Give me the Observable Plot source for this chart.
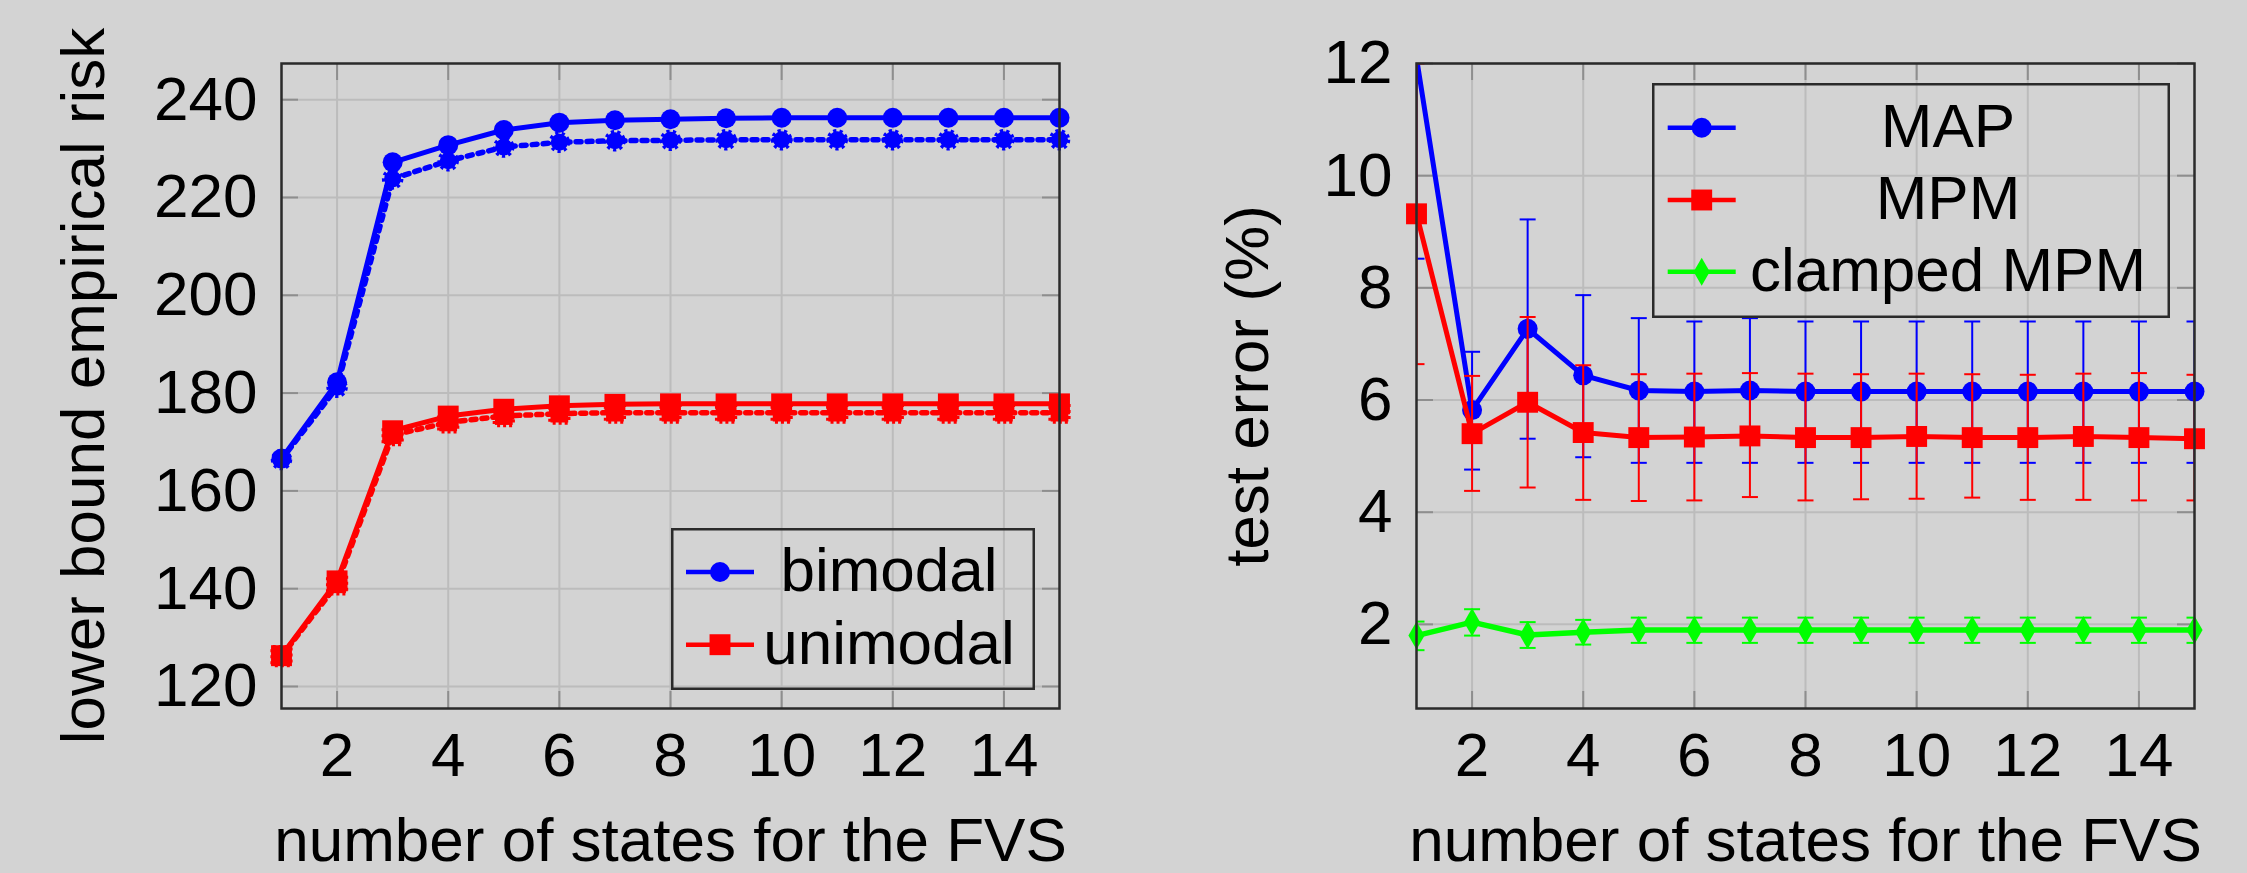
<!DOCTYPE html>
<html><head><meta charset="utf-8">
<script src="https://cdn.jsdelivr.net/npm/d3@7"></script>
<script src="https://cdn.jsdelivr.net/npm/@observablehq/plot@0.6"></script>
<style>
html,body{margin:0;padding:0;background:#d3d3d3;}
#wrap{position:relative;width:2247px;height:873px;overflow:hidden;background:#d3d3d3;}
#wrap > *{position:absolute;}
</style></head><body><div id="wrap"></div>
<script>
// ---------- data ----------
const states = [1,2,3,4,5,6,7,8,9,10,11,12,13,14,15];

// left panel: lower bound empirical risk
const bimodal        = [166.6,182.2,227.2,230.7,233.8,235.3,235.8,236.0,236.2,236.3,236.3,236.3,236.3,236.3,236.3];
const bimodalDotted  = [166.4,181.2,223.8,227.5,230.3,231.3,231.6,231.7,231.8,231.8,231.8,231.8,231.8,231.8,231.8];
const unimodal       = [126.3,141.6,172.3,175.3,176.7,177.4,177.7,177.8,177.8,177.8,177.8,177.8,177.8,177.8,177.8];
const unimodalDotted = [126.2,140.9,171.4,174.0,175.3,175.8,176.0,176.0,176.0,176.0,176.0,176.0,176.0,176.0,176.0];
const leftXTicks = [2,4,6,8,10,12,14];
const leftYTicks = [120,140,160,180,200,220,240];
const leftYDomain = [115.5,247.4];

// right panel: test error (%)
const mapMean = [12.1,5.82,7.27,6.44,6.17,6.15,6.17,6.15,6.15,6.15,6.15,6.15,6.15,6.15,6.15];
const mapLow  = [8.52,4.76,5.31,4.98,4.88,4.88,4.88,4.88,4.88,4.88,4.88,4.88,4.88,4.88,4.88];
const mapHigh = [15.7,6.86,9.22,7.87,7.46,7.40,7.46,7.40,7.40,7.40,7.40,7.40,7.40,7.40,7.40];
const mpmMean = [9.32,5.40,5.96,5.42,5.33,5.34,5.36,5.33,5.33,5.35,5.33,5.33,5.35,5.33,5.31];
const mpmLow  = [6.64,4.38,4.44,4.22,4.20,4.21,4.27,4.21,4.23,4.24,4.26,4.22,4.22,4.21,4.21];
const mpmHigh = [12.0,6.43,7.48,6.62,6.46,6.47,6.48,6.47,6.46,6.47,6.46,6.45,6.47,6.48,6.45];
const clampedMean = [1.80,2.04,1.81,1.86,1.90,1.90,1.90,1.90,1.90,1.90,1.90,1.90,1.90,1.90,1.90];
const clampedLow  = [1.54,1.80,1.58,1.64,1.67,1.67,1.67,1.67,1.67,1.67,1.67,1.67,1.67,1.67,1.67];
const clampedHigh = [2.05,2.27,2.04,2.08,2.12,2.12,2.12,2.12,2.12,2.12,2.12,2.12,2.12,2.12,2.12];
const rightXTicks = [2,4,6,8,10,12,14];
const rightYTicks = [2,4,6,8,10,12];
const rightYDomain = [0.5,12];

const xLabel = "number of states for the FVS";
const leftYLabel = "lower bound empirical risk";
const rightYLabel = "test error (%)";
const leftLegend = ["bimodal","unimodal"];
const rightLegend = ["MAP","MPM","clamped MPM"];

// ---------- style ----------
const FONT = "'Liberation Sans', Arial, sans-serif";
const FS = 62;
const BLUE = "#0000ff", RED = "#ff0000", GREEN = "#00ff00";
const GRID = "#bcbcbc", TICK = "#8e8e8e", FRAME = "#2a2a2a";
const FW = 778, FH = 645, TL = 17;

const leftRows = states.map((s,i)=>({s, bimodal:bimodal[i], bimodalDotted:bimodalDotted[i], unimodal:unimodal[i], unimodalDotted:unimodalDotted[i]}));
const rightRows = states.map((s,i)=>({s, mapMean:mapMean[i], mapLow:mapLow[i], mapHigh:mapHigh[i],
  mpmMean:mpmMean[i], mpmLow:mpmLow[i], mpmHigh:mpmHigh[i],
  clampedMean:clampedMean[i], clampedLow:clampedLow[i], clampedHigh:clampedHigh[i]}));

const capSymbol = {draw(ctx, size){ const w = Math.sqrt(size/Math.PI); ctx.moveTo(-w,0); ctx.lineTo(w,0); }};

function frameMarks(xt, yt){
  return [
    Plot.gridX(xt, {stroke: GRID, strokeOpacity: 1, strokeWidth: 2}),
    Plot.gridY(yt, {stroke: GRID, strokeOpacity: 1, strokeWidth: 2}),
    Plot.tickX(xt, {x: d=>d, stroke: TICK, strokeWidth: 2, insetTop: FH-TL}),
    Plot.tickX(xt, {x: d=>d, stroke: TICK, strokeWidth: 2, insetBottom: FH-TL}),
    Plot.tickY(yt, {y: d=>d, stroke: TICK, strokeWidth: 2, insetRight: FW-TL}),
    Plot.tickY(yt, {y: d=>d, stroke: TICK, strokeWidth: 2, insetLeft: FW-TL}),
    Plot.axisX(xt, {tickSize: 0, tickPadding: 23, fontSize: FS, fill: "black", tickFormat: d => String(d)}),
    Plot.axisY(yt, {tickSize: 0, tickPadding: 24, fontSize: FS, fill: "black", tickFormat: d => String(d)})
  ];
}
function labelMarks(ylab, ydx){
  return [
    Plot.text([xLabel], {text: d=>d, frameAnchor: "bottom", lineAnchor: "bottom", dy: 152, fontSize: FS, fill: "black"}),
    Plot.text([ylab], {text: d=>d, frameAnchor: "left", rotate: -90, lineAnchor: "bottom", textAnchor: "middle", dx: ydx, fontSize: FS, fill: "black"})
  ];
}

const styleObj = {background: "transparent", fontFamily: FONT, fontSize: FS+"px", color: "black", overflow: "visible"};

const leftPlot = Plot.plot({
  width: 1124, height: 873,
  marginLeft: 281, marginRight: 65, marginTop: 63, marginBottom: 165,
  style: styleObj,
  x: {domain: [1,15], label: null},
  y: {domain: leftYDomain, label: null},
  marks: [
    ...frameMarks(leftXTicks, leftYTicks),
    Plot.line(leftRows, {x:"s", y:"bimodalDotted", stroke: BLUE, strokeWidth: 5.5, strokeDasharray: "5,6"}),
    Plot.dot(leftRows, {x:"s", y:"bimodalDotted", r: 8.5, fill: BLUE, stroke: BLUE, strokeWidth: 4.5, strokeDasharray: "3,3", symbol: "circle"}),
    Plot.line(leftRows, {x:"s", y:"unimodalDotted", stroke: RED, strokeWidth: 5.5, strokeDasharray: "5,6"}),
    Plot.dot(leftRows, {x:"s", y:"unimodalDotted", r: 10, fill: RED, stroke: RED, strokeWidth: 4.5, strokeDasharray: "3,3", symbol: "square"}),
    Plot.line(leftRows, {x:"s", y:"bimodal", stroke: BLUE, strokeWidth: 5}),
    Plot.dot(leftRows, {x:"s", y:"bimodal", r: 10, fill: BLUE, symbol: "circle"}),
    Plot.line(leftRows, {x:"s", y:"unimodal", stroke: RED, strokeWidth: 5}),
    Plot.dot(leftRows, {x:"s", y:"unimodal", r: 11.8, fill: RED, symbol: "square"}),
    Plot.frame({stroke: FRAME, strokeWidth: 2.5}),
    ...labelMarks(leftYLabel, -178)
  ]
});

function series(meanKey, lowKey, highKey, color, symbol, r, lw){
  return [
    Plot.ruleX(rightRows, {x:"s", y1: lowKey, y2: highKey, stroke: color, strokeWidth: 2, clip: true}),
    Plot.dot(rightRows, {x:"s", y: lowKey, symbol: capSymbol, r: 8, stroke: color, fill: "none", strokeWidth: 2, clip: true}),
    Plot.dot(rightRows, {x:"s", y: highKey, symbol: capSymbol, r: 8, stroke: color, fill: "none", strokeWidth: 2, clip: true}),
    Plot.line(rightRows, {x:"s", y: meanKey, stroke: color, strokeWidth: lw, clip: true}),
    Plot.dot(rightRows, {x:"s", y: meanKey, symbol, r, fill: color, filter: d => d[meanKey] <= rightYDomain[1]})
  ];
}

const rightPlot = Plot.plot({
  width: 1123, height: 873,
  marginLeft: 292, marginRight: 53, marginTop: 63, marginBottom: 165,
  style: styleObj,
  x: {domain: [1,15], label: null},
  y: {domain: rightYDomain, label: null},
  marks: [
    ...frameMarks(rightXTicks, rightYTicks),
    ...series("mapMean","mapLow","mapHigh", BLUE, "circle", 10, 5),
    ...series("mpmMean","mpmLow","mpmHigh", RED, "square", 11.8, 5),
    ...series("clampedMean","clampedLow","clampedHigh", GREEN, "diamond", 8.5, 5.5),
    Plot.frame({stroke: FRAME, strokeWidth: 2.5}),
    ...labelMarks(rightYLabel, -149)
  ]
});

const wrap = document.getElementById("wrap");
leftPlot.style.left = "0px"; leftPlot.style.top = "0px";
rightPlot.style.left = "1124px"; rightPlot.style.top = "0px";
wrap.appendChild(leftPlot);
wrap.appendChild(rightPlot);

// ---------- legends ----------
function legend(names, colors, symbols, sizes, box){
  const svg = d3.select(wrap).append("svg")
    .attr("width", box.w).attr("height", box.h)
    .style("left", box.x + "px").style("top", box.y + "px")
    .style("font-family", FONT);
  svg.append("rect").attr("x", 1.25).attr("y", 1.25).attr("width", box.w-2.5).attr("height", box.h-2.5)
    .attr("fill", "none").attr("stroke", FRAME).attr("stroke-width", 2.5);
  names.forEach((n, i) => {
    const cy = box.rows[i];
    svg.append("line").attr("x1", box.lx1).attr("x2", box.lx2).attr("y1", cy).attr("y2", cy)
      .attr("stroke", colors[i]).attr("stroke-width", 4.5);
    svg.append("path").attr("transform", `translate(${(box.lx1+box.lx2)/2},${cy})`)
      .attr("d", d3.symbol(symbols[i], Math.PI*sizes[i]*sizes[i])()).attr("fill", colors[i]);
    svg.append("text").attr("x", box.tx).attr("y", cy + 19).attr("text-anchor", "middle")
      .attr("font-size", FS).attr("fill", "black").text(n);
  });
}
legend(leftLegend, [BLUE, RED], [d3.symbolCircle, d3.symbolSquare], [10, 11.8],
  {x: 671, y: 528, w: 364, h: 162, lx1: 15, lx2: 83, rows: [44, 116.7], tx: 218});
legend(rightLegend, [BLUE, RED, GREEN], [d3.symbolCircle, d3.symbolSquare, d3.symbolDiamond], [10, 11.8, 8.5],
  {x: 1652, y: 83, w: 518, h: 235, lx1: 15.7, lx2: 83.7, rows: [44.7, 117, 188.7], tx: 296});
</script></body></html>
